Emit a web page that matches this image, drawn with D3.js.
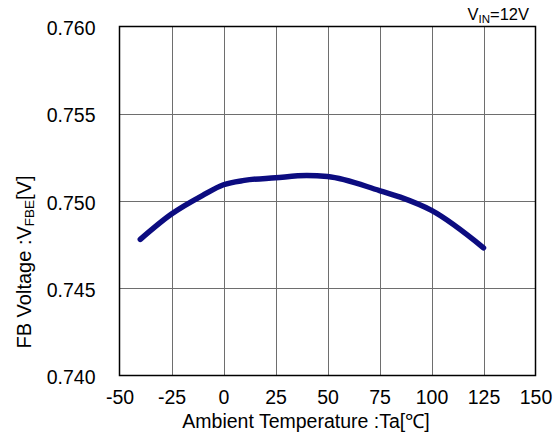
<!DOCTYPE html>
<html><head><meta charset="utf-8">
<script src="https://cdn.jsdelivr.net/npm/d3@7"></script>
<style>body{margin:0;background:#fff}svg{display:block}text{font-family:"Liberation Sans",Arial,sans-serif;fill:#000}</style>
</head><body><svg id="c" width="555" height="436"></svg>
<script>
const temps = [-40, -25, -10, 0, 10, 25, 40, 50, 75, 85, 100, 125];
const vfbe = [0.74780, 0.74925, 0.75032, 0.75093, 0.75118, 0.75133, 0.75146, 0.75140, 0.75060, 0.75022, 0.74946, 0.74732];
const xTicks = [-50, -25, 0, 25, 50, 75, 100, 125, 150];
const yTicks = [0.740, 0.745, 0.750, 0.755, 0.760];

const svg = d3.select("#c");
const L = 119.5, R = 535.5, T = 26.5, B = 375.5;
const x = d3.scaleLinear().domain([-50, 150]).range([L, R]);
const y = d3.scaleLinear().domain([0.740, 0.760]).range([B, T]);

// grid
svg.append("g").selectAll("line").data(xTicks.slice(1, -1)).join("line")
  .attr("x1", d => Math.round(x(d)) + 0.5).attr("x2", d => Math.round(x(d)) + 0.5)
  .attr("y1", T).attr("y2", B).attr("stroke", "#6e6e6e").attr("stroke-width", 1);
svg.append("g").selectAll("line").data(yTicks.slice(1, -1)).join("line")
  .attr("y1", d => Math.round(y(d)) + 0.5).attr("y2", d => Math.round(y(d)) + 0.5)
  .attr("x1", L).attr("x2", R).attr("stroke", "#6e6e6e").attr("stroke-width", 1);
svg.append("rect").attr("x", L).attr("y", T).attr("width", R - L).attr("height", B - T)
  .attr("fill", "none").attr("stroke", "#000").attr("stroke-width", 1.5);

const xa = svg.append("g").attr("transform", `translate(0,${B})`)
  .call(d3.axisBottom(x).tickValues(xTicks).tickSize(0).tickPadding(15).tickFormat(d => String(d)));
xa.select(".domain").remove();
xa.selectAll("text").attr("font-size", 19.5).attr("font-family", "Liberation Sans, Arial, sans-serif").attr("fill", "#000");

const ya = svg.append("g").attr("transform", `translate(${L},0)`)
  .call(d3.axisLeft(y).tickValues(yTicks).tickSize(0).tickPadding(24).tickFormat(d => d.toFixed(3)));
ya.select(".domain").remove();
ya.selectAll("text").attr("font-size", 19.5).attr("font-family", "Liberation Sans, Arial, sans-serif").attr("fill", "#000").attr("dy", "0.42em");

// curve
const line = d3.line().x((d, i) => x(temps[i])).y(d => y(d)).curve(d3.curveMonotoneX);
svg.append("path").attr("d", line(vfbe)).attr("fill", "none")
  .attr("stroke", "#0c0c80").attr("stroke-width", 5.5).attr("stroke-linecap", "round").attr("stroke-linejoin", "round");

// x title
svg.append("text").attr("x", 306).attr("y", 428).attr("text-anchor", "middle").attr("font-size", 19.5)
  .text("Ambient Temperature :Ta[℃]");

// y title
const yt = svg.append("text").attr("transform", "translate(31,262) rotate(-90)").attr("text-anchor", "middle").attr("font-size", 20);
yt.append("tspan").text("FB Voltage :V");
yt.append("tspan").attr("font-size", 13.5).attr("dy", 3).text("FBE");
yt.append("tspan").attr("dy", -3).text("[V]");

// condition
const ct = svg.append("text").attr("x", 529).attr("y", 20).attr("text-anchor", "end").attr("font-size", 16.5);
ct.append("tspan").text("V");
ct.append("tspan").attr("font-size", 11.5).attr("dy", 3).text("IN");
ct.append("tspan").attr("dy", -3).text("=12V");
</script></body></html>
